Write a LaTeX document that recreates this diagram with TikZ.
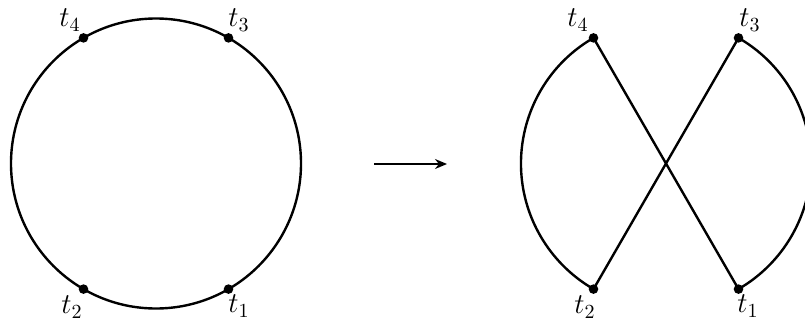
\documentclass[tikz,border=0pt]{standalone}
\usetikzlibrary{arrows.meta}
\begin{document}
\begin{tikzpicture}[x=0.5pt,y=-0.5pt,
  curve/.style={line width=1.2pt},
  dot/.style={circle,fill=black,inner sep=0pt,minimum size=4.8pt},
  lab/.style={inner sep=0pt,font=\fontsize{14.5}{17}\selectfont}]
\useasboundingbox (0,0) rectangle (805,322);
% left circle
\coordinate (lc) at (156,163.5);
\draw[curve] (lc) circle[radius=145];
\node[dot] (l3) at (228.5,37.9) {};
\node[dot] (l4) at (83.5,37.9) {};
\node[dot] (l2) at (83.5,289.1) {};
\node[dot] (l1) at (228.5,289.1) {};
\node[lab] (lt4) at (70,20) {$t_4$};
\node[lab] (lt3) at (239,20) {$t_3$};
\node[lab] (lt2) at (72,307) {$t_2$};
\node[lab] (lt1) at (239,306) {$t_1$};
% arrow
\coordinate (a1) at (374,164);
\coordinate (a2) at (447,164);
\draw[line width=0.9pt,-{Stealth[length=6pt,width=5pt]}] (a1) -- (a2);
% right figure
\node[dot] (r4) at (593.5,37.9) {};
\node[dot] (r3) at (738.5,37.9) {};
\node[dot] (r2) at (593.5,289.1) {};
\node[dot] (r1) at (738.5,289.1) {};
\draw[curve] (r4.center) arc[start angle=240,end angle=120,radius=145];
\draw[curve] (r3.center) arc[start angle=300,end angle=420,radius=145];
\draw[curve] (r4.center) -- (r1.center);
\draw[curve] (r3.center) -- (r2.center);
\node[lab] (rt4) at (578,20) {$t_4$};
\node[lab] (rt3) at (750,20) {$t_3$};
\node[lab] (rt2) at (585,307) {$t_2$};
\node[lab] (rt1) at (748,306) {$t_1$};
\end{tikzpicture}
\end{document}
